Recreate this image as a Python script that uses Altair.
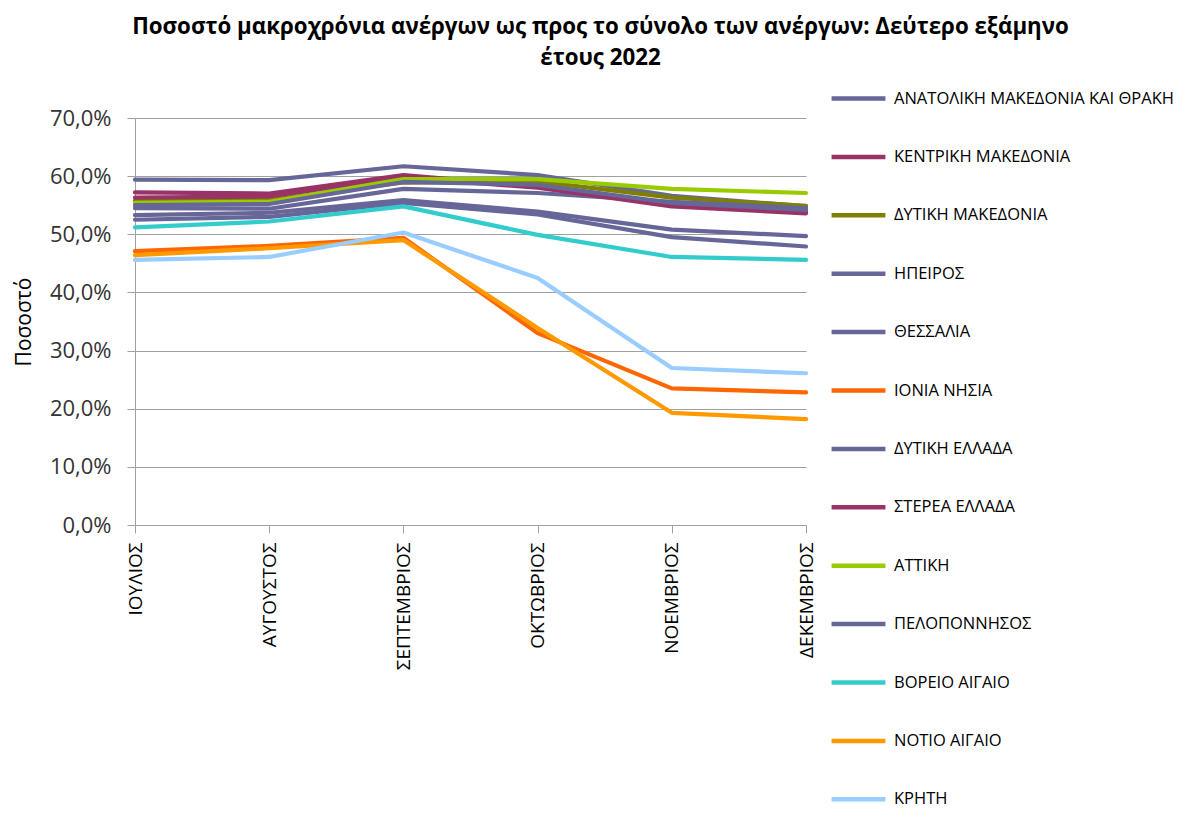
import altair as alt
import pandas as pd

months = ["ΙΟΥΛΙΟΣ", "ΑΥΓΟΥΣΤΟΣ", "ΣΕΠΤΕΜΒΡΙΟΣ", "ΟΚΤΩΒΡΙΟΣ", "ΝΟΕΜΒΡΙΟΣ", "ΔΕΚΕΜΒΡΙΟΣ"]

regions = [
    "ΑΝΑΤΟΛΙΚΗ ΜΑΚΕΔΟΝΙΑ ΚΑΙ ΘΡΑΚΗ",
    "ΚΕΝΤΡΙΚΗ ΜΑΚΕΔΟΝΙΑ",
    "ΔΥΤΙΚΗ ΜΑΚΕΔΟΝΙΑ",
    "ΗΠΕΙΡΟΣ",
    "ΘΕΣΣΑΛΙΑ",
    "ΙΟΝΙΑ ΝΗΣΙΑ",
    "ΔΥΤΙΚΗ ΕΛΛΑΔΑ",
    "ΣΤΕΡΕΑ ΕΛΛΑΔΑ",
    "ΑΤΤΙΚΗ",
    "ΠΕΛΟΠΟΝΝΗΣΟΣ",
    "ΒΟΡΕΙΟ ΑΙΓΑΙΟ",
    "ΝΟΤΙΟ ΑΙΓΑΙΟ",
    "ΚΡΗΤΗ",
]

colors = [
    "#666699", "#993366", "#808000", "#666699", "#666699", "#FF6600", "#666699",
    "#993366", "#99CC00", "#666699", "#33CCCC", "#FF9900", "#99CCFF",
]

anatoliki_makedonia = [59.4, 59.3, 61.7, 60.2, 56.6, 54.8]
kentriki_makedonia = [57.2, 57.0, 60.2, 58.2, 55.1, 53.9]
dytiki_makedonia = [55.8, 55.9, 58.9, 59.1, 56.3, 54.9]
ipeiros = [54.5, 54.4, 57.8, 57.1, 55.6, 54.5]
thessalia = [53.3, 53.7, 55.9, 53.9, 50.8, 49.7]
ionia_nisia = [47.1, 48.0, 49.4, 33.0, 23.5, 22.8]
dytiki_ellada = [52.5, 53.0, 55.4, 53.4, 49.5, 47.9]
sterea_ellada = [56.3, 56.5, 59.8, 58.0, 54.8, 53.6]
attiki = [55.4, 55.6, 59.5, 59.5, 57.8, 57.1]
peloponnisos = [55.0, 55.2, 59.0, 58.5, 55.4, 54.2]
voreio_aigaio = [51.2, 52.2, 54.8, 49.9, 46.1, 45.6]
notio_aigaio = [46.4, 47.6, 49.0, 33.9, 19.3, 18.2]
kriti = [45.6, 46.1, 50.3, 42.5, 27.0, 26.1]

series = [
    anatoliki_makedonia, kentriki_makedonia, dytiki_makedonia, ipeiros, thessalia,
    ionia_nisia, dytiki_ellada, sterea_ellada, attiki, peloponnisos,
    voreio_aigaio, notio_aigaio, kriti,
]

rows = []
for ri, (name, vals) in enumerate(zip(regions, series)):
    for mi, (m, v) in enumerate(zip(months, vals)):
        rows.append({"region": name, "month": m, "value": v, "order": ri * 10 + mi})
df = pd.DataFrame(rows)

FONT = "Open Sans"
GRID = "#A0A0A0"

chart = (
    alt.Chart(df)
    .mark_line(strokeWidth=4.2, strokeCap="round", strokeJoin="round")
    .encode(
        x=alt.X(
            "month:N",
            sort=months,
            scale=alt.Scale(type="point", padding=0),
            axis=alt.Axis(
                title=None,
                labelAngle=-90,
                labelFont=FONT,
                labelFontSize=19,
                labelColor="#000000",
                labelPadding=9,
                tickSize=8,
                tickColor=GRID,
                domainColor=GRID,
                grid=False,
            ),
        ),
        y=alt.Y(
            "value:Q",
            scale=alt.Scale(domain=[0, 70], nice=False),
            axis=alt.Axis(
                title="Ποσοστό",
                titleFont=FONT,
                titleFontSize=21,
                titleFontWeight="normal",
                titleColor="#000000",
                titlePadding=15,
                values=[0, 10, 20, 30, 40, 50, 60, 70],
                labelExpr="replace(format(datum.value, '.1f'), '.', ',') + '%'",
                labelFont=FONT,
                labelFontSize=22,
                labelColor="#333333",
                labelPadding=16,
                tickSize=8,
                tickColor=GRID,
                domainColor=GRID,
                gridColor=GRID,
                gridWidth=1,
            ),
        ),
        color=alt.Color(
            "region:N",
            sort=regions,
            scale=alt.Scale(domain=regions, range=colors),
            legend=alt.Legend(
                title=None,
                orient="none",
                legendX=694,
                legendY=-49,
                symbolType="stroke",
                symbolSize=2900,
                symbolStrokeWidth=4.5,
                labelFont=FONT,
                labelFontSize=16.5,
                labelColor="#000000",
                labelOffset=6,
                rowPadding=19.4,
                labelLimit=400,
            ),
        ),
        order="order:Q",
    )
    .properties(
        width=671,
        height=407,
        autosize=alt.AutoSizeParams(type="none"),
        padding={"left": 127, "top": 110, "right": 370, "bottom": 283},
        title=alt.TitleParams(
            text=[
                "Ποσοστό  μακροχρόνια ανέργων ως προς το σύνολο των ανέργων: Δεύτερο εξάμηνο",
                "έτους 2022",
            ],
            font=FONT,
            fontSize=22.3,
            fontWeight="bold",
            color="#000000",
            anchor="middle",
            frame="group",
            dx=130,
            dy=4,
            lineHeight=31,
        ),
    )
    .configure_view(stroke=None)
)

chart.save("out.html", embed_options={"renderer": "svg", "actions": False})
